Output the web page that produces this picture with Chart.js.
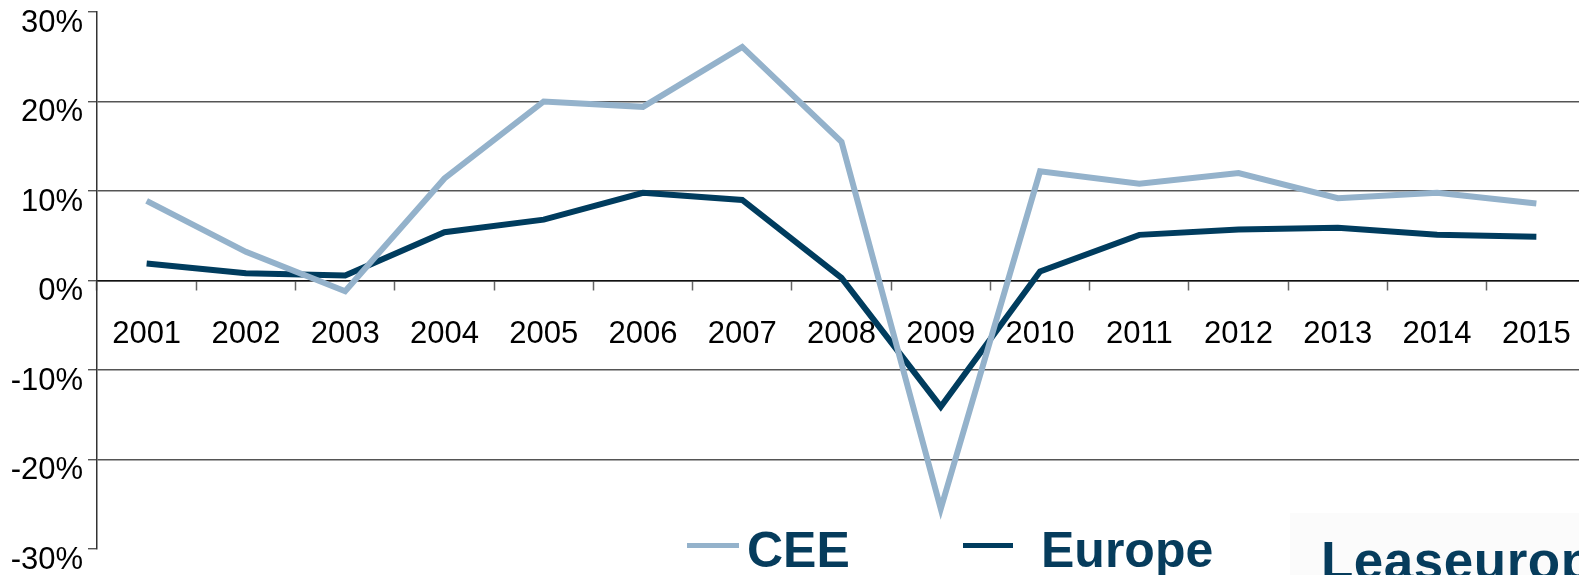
<!DOCTYPE html>
<html>
<head>
<meta charset="utf-8">
<script src="https://cdn.jsdelivr.net/npm/chart.js"></script>
<style>
  html, body { margin: 0; padding: 0; background: #fff; overflow: hidden; }
  #wrap { position: absolute; left: 0; top: 0; width: 1600px; height: 600px; }
  #growthChart { position: absolute; left: 0; top: 0; }
  .key { position: absolute; height: 5px; }
  .label { position: absolute; font-family: 'Liberation Sans', Arial, sans-serif; font-weight: bold;
           color: #063c5c; white-space: nowrap; }
  #logoBox { position: absolute; left: 1290px; top: 513px; width: 320px; height: 90px; background: #fbfbfb; }
</style>
</head>
<body>
<div id="wrap">
  <div id="logoBox"></div>
  <canvas id="growthChart" width="1600" height="600"></canvas>
  <div class="key" style="left:687px; top:543px; width:52px; background:#94b2cb;"></div>
  <div class="label" style="left:747px; top:525px; font-size:50px; line-height:50px;">CEE</div>
  <div class="key" style="left:963px; top:543px; width:50px; background:#003c5e;"></div>
  <div class="label" style="left:1041px; top:525px; font-size:50px; line-height:50px;">Europe</div>
  <div class="label" style="left:1321px; top:534px; font-size:53px; line-height:53px; letter-spacing:0.5px;">Leaseurope</div>
</div>
<script>
const years = ['2001', '2002', '2003', '2004', '2005', '2006', '2007', '2008',
               '2009', '2010', '2011', '2012', '2013', '2014', '2015'];
const ceeGrowth = [8.9, 3.2, -1.2, 11.4, 20.0, 19.4, 26.1, 15.5, -25.5, 12.2, 10.8, 12.0, 9.2, 9.8, 8.6];
const europeGrowth = [1.9, 0.8, 0.55, 5.4, 6.8, 9.8, 9.0, 0.3, -14.1, 1.0, 5.1, 5.7, 5.9, 5.1, 4.9];
const yTicks = [-30, -20, -10, 0, 10, 20, 30];

const tickFont = { family: "'Liberation Sans', Arial, sans-serif", size: 31 };

const ctx = document.getElementById('growthChart').getContext('2d');

new Chart(ctx, {
    type: 'line',
    data: {
        labels: years,
        datasets: [
            {
                label: 'CEE',
                data: ceeGrowth,
                borderColor: '#94b2cb',
                borderWidth: 6,
                borderJoinStyle: 'miter',
                pointRadius: 0,
                tension: 0
            },
            {
                label: 'Europe',
                data: europeGrowth,
                borderColor: '#003c5e',
                borderWidth: 6,
                borderJoinStyle: 'miter',
                pointRadius: 0,
                tension: 0
            }
        ]
    },
    options: {
        responsive: false,
        animation: false,
        layout: { padding: { left: 0, top: 12, right: 14, bottom: 51 } },
        plugins: {
            legend: { display: false },
            tooltip: { enabled: false }
        },
        scales: {
            x: {
                type: 'category',
                offset: true,
                position: { y: 0 },
                border: { color: '#111', width: 1.5 },
                grid: {
                    offset: true,
                    drawOnChartArea: false,
                    tickLength: 9,
                    tickColor: '#666',
                    tickWidth: 1.5
                },
                ticks: {
                    color: '#000',
                    font: tickFont,
                    padding: 26,
                    maxRotation: 0,
                    autoSkip: false
                }
            },
            y: {
                min: -30,
                max: 30,
                afterBuildTicks: scale => {
                    scale.ticks = yTicks.map(v => ({ value: v }));
                },
                afterFit: scale => {
                    scale.width = 97;
                    scale.paddingTop = 0;
                    scale.paddingBottom = 0;
                },
                border: { color: '#333', width: 1.5 },
                grid: {
                    color: c => (Math.abs(c.tick.value) === 30 ? 'rgba(0,0,0,0)' : '#555'),
                    lineWidth: 1.4,
                    tickLength: 9,
                    tickColor: '#555',
                    tickWidth: 1.4
                },
                ticks: {
                    color: '#000',
                    font: tickFont,
                    padding: 5,
                    labelOffset: 11,
                    callback: v => v + '%'
                }
            }
        }
    }
});
</script>
</body>
</html>
